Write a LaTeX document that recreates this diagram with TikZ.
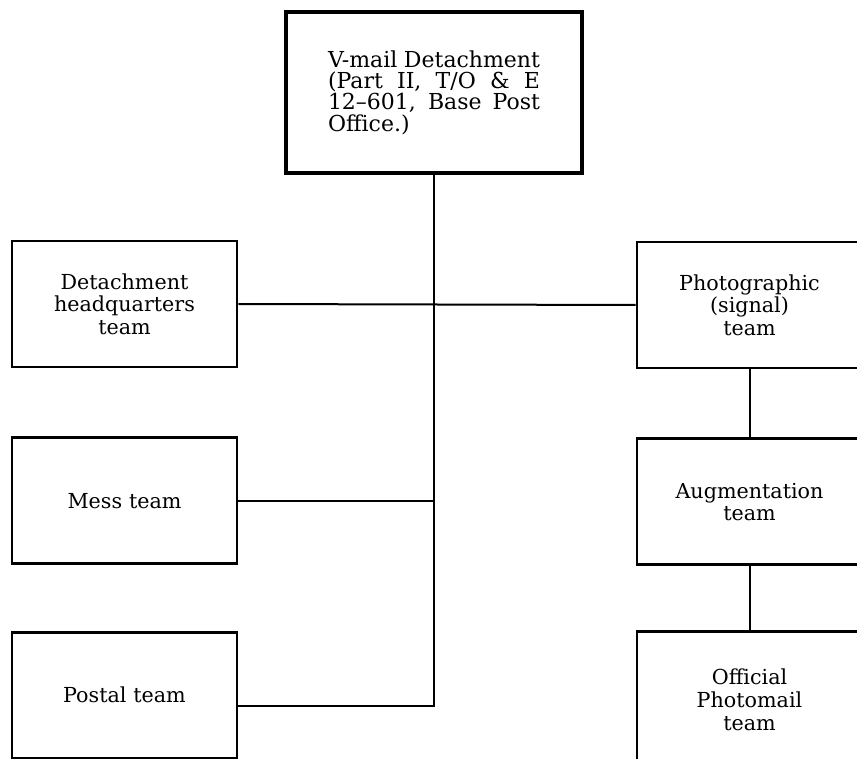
\documentclass[tikz,border=0pt]{standalone}
\usepackage{fontspec}
\setmainfont{DejaVu Serif}
\usetikzlibrary{positioning}

\begin{document}
\begin{tikzpicture}[x=0.75pt, y=-0.75pt, node distance=51pt, auto]
        % Define block styles
        \tikzstyle{block} = [rectangle, draw, line width=2.2pt, text width=150pt, text centered, minimum width=168.75pt, minimum height=94.5pt, inner sep=0pt, font=\fontsize{15.5}{17}\selectfont]
        \tikzstyle{line} = [draw, line width=1.5pt]

        \useasboundingbox (0,0) rectangle (857,759);

        % Nodes
        \node [block, line width=2.8pt, minimum width=222pt, minimum height=120.75pt, text width=159pt, align=justify, font=\fontsize{16.5}{16}\selectfont] (VMail) at (434,92.5) {V-mail Detachment\linebreak (Part II, T/O \& E\linebreak 12--601, Base Post\linebreak Office.)};

        \node [block] (HQ) at (124.5,304) {Detachment\\ headquarters\\ team};
        \node [block, below=51pt of HQ] (Mess) {Mess team};
        \node [block, below=49pt of Mess] (Postal) {Postal team};

        \node [block] (Photo) at (749.5,305) {Photographic\\ (signal)\\ team};
        \node [block, below=51pt of Photo] (Augment) {Augmentation\\ team};
        \node [block, below=48pt of Augment, minimum height=102pt] (Photomail) {Official\\ Photomail\\ team};

        % Lines
        \path [line] (HQ.east) -- (Photo.west);
        \path [line] (Mess.east) -- (Mess.east -| VMail.south);
        \path [line] ([yshift=-8pt]Postal.east) -| (VMail.south);
        \path [line] (Photo.south) -- (Augment.north);
        \path [line] (Augment.south) -- (Photomail.north);
    \end{tikzpicture}
\end{document}
